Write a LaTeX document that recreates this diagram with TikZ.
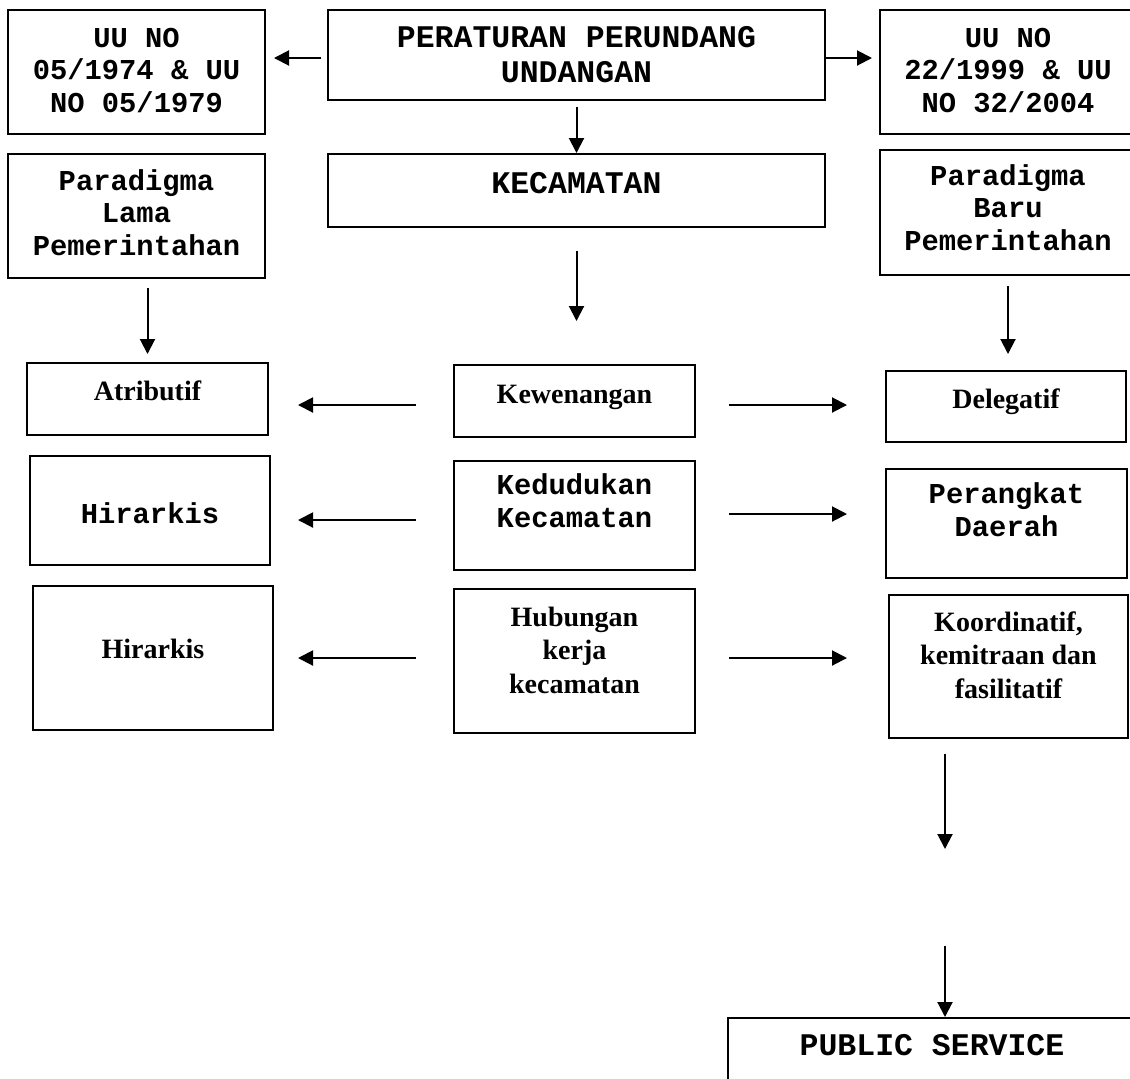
\documentclass[tikz,border=0pt]{standalone}
\usepackage{fontspec}
\newfontfamily\cour{Liberation Mono}
\newfontfamily\tms{Liberation Serif}
\usetikzlibrary{arrows.meta,fit}
\tikzset{
  box/.style={draw, line width=1pt, inner sep=0pt},
  txt/.style={align=center, anchor=base, inner sep=0pt},
  mono/.style={txt, font={\cour\bfseries\fontsize{14.4}{16.1}\selectfont}},
  bigmono/.style={txt, font={\cour\bfseries\fontsize{15.75}{17.5}\selectfont}},
  serif/.style={txt, font={\tms\bfseries\fontsize{14}{16.6}\selectfont}},
  arr/.style={line width=1pt, -{Triangle[length=7.5pt,width=7.5pt]}}
}
\begin{document}
\begin{tikzpicture}[x=0.5pt, y=-0.5pt]
\useasboundingbox (0,0) rectangle (1130,1078);
\clip (0,0) rectangle (1130,1078);
% boxes
\foreach \nm/\xa/\ya/\xb/\yb in {uuLama/8/10/265/134, paraLama/8/154/265/278,
    perat/328/10/825/100, kec/328/154/825/227,
    uuBaru/880/10/1136/134, paraBaru/880/150/1136/275,
    atrib/27/363/268/435, hirA/30/456/270/565, hirB/33/586/273/730,
    kew/454/365/695/437, kedud/454/461/695/570, hub/454/589/695/733,
    deleg/886/371/1126/442, perang/886/469/1127/578, koord/889/595/1128/738,
    pub/728/1018/1136/1100}
  \node[box, fit={(\xa,\ya) (\xb,\yb)}] (\nm) {};
% texts (placed at the baseline of the last line)
\node[mono] (uuLamaTxt) at (uuLama |- 0,112) {UU NO\\05/1974 \& UU\\NO 05/1979};
\node[mono] (paraLamaTxt) at (paraLama |- 0,255) {Paradigma\\Lama\\Pemerintahan};
\node[bigmono] (peratTxt) at (perat |- 0,82) {PERATURAN PERUNDANG\\UNDANGAN};
\node[bigmono] (kecTxt) at (kec |- 0,193) {KECAMATAN};
\node[mono] (uuBaruTxt) at (uuBaru |- 0,112) {UU NO\\22/1999 \& UU\\NO 32/2004};
\node[mono] (paraBaruTxt) at (paraBaru |- 0,250) {Paradigma\\Baru\\Pemerintahan};
\node[serif] (atribTxt) at (atrib |- 0,400) {Atributif};
\node[mono] (hirATxt) at (hirA |- 0,523) {Hirarkis};
\node[serif] (hirBTxt) at (hirB |- 0,658) {Hirarkis};
\node[serif] (kewTxt) at (kew |- 0,403) {Kewenangan};
\node[mono] (kedudTxt) at (kedud |- 0,527) {Kedudukan\\Kecamatan};
\node[serif] (hubTxt) at (hub |- 0,693) {Hubungan\\kerja\\kecamatan};
\node[serif] (delegTxt) at (deleg |- 0,408) {Delegatif};
\node[mono] (perangTxt) at (perang |- 0,536) {Perangkat\\Daerah};
\node[serif] (koordTxt) at (koord |- 0,698) {Koordinatif,\\kemitraan dan\\fasilitatif};
\node[bigmono] (pubTxt) at (pub |- 0,1055) {PUBLIC SERVICE};
% arrows
\draw[arr, shorten <=3pt, shorten >=4pt] (perat.west |- 0,58) -- (uuLama.east |- 0,58);
\draw[arr, shorten >=3.5pt] (perat.east |- 0,58) -- (uuBaru.west |- 0,58);
\draw[arr, shorten <=3pt] (perat.south) -- (kec.north);
\draw[arr, shorten <=11.5pt, shorten >=21.5pt] (kec.south) -- (kec.south |- kew.north);
\draw[arr, shorten <=4.5pt, shorten >=4pt] (atrib.north |- paraLama.south) -- (atrib.north);
\draw[arr, shorten <=5pt, shorten >=8pt] (paraBaru.south) -- (paraBaru.south |- deleg.north);
\foreach \a/\b/\y/\s in {kew/atrib/405/14.5pt, kedud/hirA/520/13.5pt, hub/hirB/658/12pt}
  \draw[arr, shorten <=18.5pt, shorten >=\s] (\a.west |- 0,\y) -- (\b.east |- 0,\y);
\foreach \a/\b/\y/\s in {kew/deleg/405/19pt, kedud/perang/514/19pt, hub/koord/658/20.5pt}
  \draw[arr, shorten <=16.5pt, shorten >=\s] (\a.east |- 0,\y) -- (\b.west |- 0,\y);
\coordinate (stepA) at (945,849);
\coordinate (stepB) at (945,946);
\draw[arr, shorten <=7.5pt] (stepA |- koord.south) -- (stepA);
\draw[arr] (stepB) -- (stepB |- pub.north);
\end{tikzpicture}
\end{document}
